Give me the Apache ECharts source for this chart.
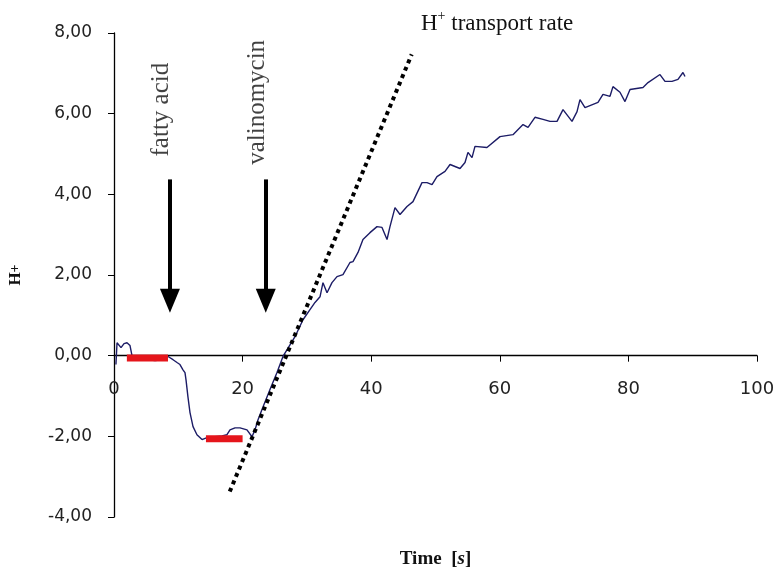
<!DOCTYPE html>
<html>
<head>
<meta charset="utf-8">
<script src="https://cdn.jsdelivr.net/npm/echarts@6/dist/echarts.min.js"></script>
<style>
  html, body { margin: 0; padding: 0; background: #ffffff; }
  #chart { width: 781px; height: 574px; }
</style>
</head>
<body>
<div id="chart"></div>
<script>
// Measured H+ trace: time [s] and H+ signal
const traceTime = [
  0.3, 0.47, 1.09, 1.56, 2.02, 2.49, 2.8, 4.04, 5.29, 6.38, 7.47, 8.4, 9.18, 9.8, 10.26,
  10.73, 11.04, 11.2, 11.5, 11.82, 12.29, 12.9, 13.69, 14.46, 15.7, 16.8, 17.57, 18.04,
  18.82, 19.6, 20.68, 21.46, 21.93, 22.4, 23.17, 24.26, 25.35, 26.28, 27.37, 28.15, 29.39,
  30.48, 31.26, 32.04, 32.5, 33.13, 33.9, 34.68, 35.61, 36.7, 37.17, 37.95, 38.72, 39.81,
  40.9, 41.68, 42.46, 42.92, 43.7, 44.48, 45.57, 46.5, 47.9, 48.68, 49.46, 50.23, 51.48,
  52.26, 53.81, 54.59, 55.05, 55.68, 56.14, 58.0, 60.03, 62.05, 63.61, 64.39, 65.47, 66.72,
  67.81, 68.9, 69.83, 71.23, 72.01, 72.47, 73.25, 75.27, 76.05, 77.14, 77.6, 78.69, 79.47,
  80.25, 82.27, 83.05, 84.91, 85.69, 86.78, 87.71, 88.49, 88.8
];
const traceH = [
  -0.22, 0.32, 0.2, 0.3, 0.32, 0.25, 0.0, -0.02, -0.1, -0.12, -0.1, -0.02, -0.1, -0.17, -0.22,
  -0.35, -0.42, -0.6, -1.02, -1.41, -1.76, -1.96, -2.08, -2.03, -2.01, -1.99, -1.96, -1.84,
  -1.79, -1.79, -1.84, -2.01, -1.84, -1.59, -1.27, -0.84, -0.42, -0.02, 0.27, 0.47, 0.89,
  1.14, 1.32, 1.46, 1.81, 1.56, 1.81, 1.96, 2.01, 2.31, 2.33, 2.56, 2.88, 3.05,
  3.2, 3.18, 2.88, 3.2, 3.67, 3.5, 3.7, 3.82, 4.29, 4.29, 4.24, 4.44, 4.57,
  4.74, 4.64, 4.79, 5.04, 4.91, 5.19, 5.16, 5.43, 5.48, 5.73, 5.66, 5.91, 5.86,
  5.81, 5.81, 6.1, 5.81, 6.05, 6.35, 6.15, 6.28, 6.48, 6.43, 6.67, 6.53, 6.3,
  6.6, 6.65, 6.77, 6.97, 6.8, 6.8, 6.85, 7.02, 6.92
];

// Transport-rate tangent (dotted line)
const rateTime = [18.0, 46.3];
const rateH = [-3.37, 7.47];

// Baseline segments (red)
const baselineStart = [2.0, 14.3];
const baselineEnd = [8.4, 20.0];
const baselineH = [-0.06, -2.06];

// Addition markers
const additionNames = ['fatty acid', 'valinomycin'];
const additionTime = [8.7, 23.6];
const additionLabelTime = [7.3, 22.3];
const additionLabelH = [6.1, 6.28];
const arrowTopH = 4.37;
const arrowEndH = 1.36;

// Axis tick labels
const xTickLabels = ['0', '20', '40', '60', '80', '100'];
const yTickLabels = { '-4': '-4,00', '-2': '-2,00', '0': '0,00', '2': '2,00', '4': '4,00', '6': '6,00', '8': '8,00' };

const yMin = -4;
const yMax = 8;

const traceData = traceTime.map((t, i) => [t, traceH[i]]);
const rateData = rateTime.map((t, i) => [t, rateH[i]]);

const baselineSeries = baselineStart.map((s, i) => ({
  type: 'line',
  data: [[s, baselineH[i]], [baselineEnd[i], baselineH[i]]],
  showSymbol: false,
  silent: true,
  z: 4,
  lineStyle: { color: '#e5151b', width: 7, cap: 'butt' }
}));

const serif = '"Liberation Serif", "DejaVu Serif", serif';
const sans = '"DejaVu Sans", sans-serif';

const gridTop = 33;
const gridBottom = 57;
const chartHeight = 574;
// Offset that lifts the time axis (line, ticks and labels) onto H+ = 0
const plotHeight = chartHeight - gridTop - gridBottom;
const zeroOffset = -plotHeight * (0 - yMin) / (yMax - yMin);

const chart = echarts.init(document.getElementById('chart'), null, { renderer: 'canvas' });

chart.setOption({
  animation: false,
  backgroundColor: '#ffffff',
  title: {
    text: '{a|H}{s|+}{a| transport rate}',
    left: 416,
    top: 4,
    textStyle: {
      fontWeight: 'normal',
      rich: {
        a: { fontFamily: serif, fontSize: 23, fontWeight: 'normal', color: '#111', lineHeight: 30 },
        s: { fontFamily: serif, fontSize: 14, fontWeight: 'normal', color: '#111', verticalAlign: 'top', lineHeight: 30, padding: [0, 0, 12, 0] }
      }
    }
  },
  grid: { left: 114, right: 24, top: gridTop, bottom: gridBottom, containLabel: false, outerBoundsMode: 'none' },
  xAxis: {
    type: 'value',
    position: 'bottom',
    offset: zeroOffset,
    min: 0,
    max: 100,
    interval: 20,
    name: '{b|Time  [}{i|s}{b|]}',
    nameLocation: 'middle',
    nameGap: 194,
    nameTextStyle: {
      rich: {
        b: { fontFamily: serif, fontSize: 19, fontWeight: 'bold', color: '#111' },
        i: { fontFamily: serif, fontSize: 19, fontWeight: 'bold', fontStyle: 'italic', color: '#111' }
      }
    },
    axisLine: { onZero: false, lineStyle: { color: '#000', width: 1.3 } },
    axisTick: { show: true, inside: false, length: 6, lineStyle: { color: '#000' } },
    axisLabel: {
      margin: 25,
      fontFamily: sans,
      fontSize: 18,
      color: '#222',
      formatter: (v) => xTickLabels[Math.round(v / 20)]
    },
    splitLine: { show: false }
  },
  yAxis: {
    type: 'value',
    min: yMin,
    max: yMax,
    interval: 2,
    name: '{h|H}{p|+}',
    nameLocation: 'middle',
    nameGap: 90,
    nameRotate: 90,
    nameTextStyle: {
      rich: {
        h: { fontFamily: serif, fontSize: 17, fontWeight: 'bold', color: '#111' },
        p: { fontFamily: serif, fontSize: 14, fontWeight: 'bold', color: '#111' }
      }
    },
    axisLine: { show: true, onZero: false, lineStyle: { color: '#000', width: 1.3 } },
    axisTick: { show: true, inside: false, length: 6, lineStyle: { color: '#000' } },
    axisLabel: {
      margin: 22,
      fontFamily: sans,
      fontSize: 17,
      color: '#222',
      formatter: (v) => yTickLabels[String(Math.round(v))]
    },
    splitLine: { show: false }
  },
  series: [
    {
      type: 'line',
      data: traceData,
      showSymbol: false,
      silent: true,
      z: 3,
      lineStyle: { color: '#1c1c66', width: 1.4 }
    },
    ...baselineSeries,
    {
      type: 'line',
      data: rateData,
      showSymbol: false,
      silent: true,
      z: 5,
      lineStyle: { color: '#000', width: 4, type: [4, 4], cap: 'butt' },
      markLine: {
        silent: true,
        symbol: ['none', 'triangle'],
        symbolSize: [20, 24],
        label: { show: false },
        lineStyle: { color: '#000', width: 4, type: 'solid' },
        data: additionTime.map((t) => [
          { coord: [t, arrowTopH] },
          { coord: [t, arrowEndH] }
        ])
      }
    },
    {
      type: 'scatter',
      data: additionLabelTime.map((t, i) => [t, additionLabelH[i], additionNames[i]]),
      symbolSize: 0,
      silent: true,
      label: {
        show: true,
        position: 'inside',
        rotate: 90,
        fontFamily: serif,
        fontSize: 25,
        color: '#111',
        formatter: (p) => p.data[2]
      }
    }
  ]
});
</script>
</body>
</html>
